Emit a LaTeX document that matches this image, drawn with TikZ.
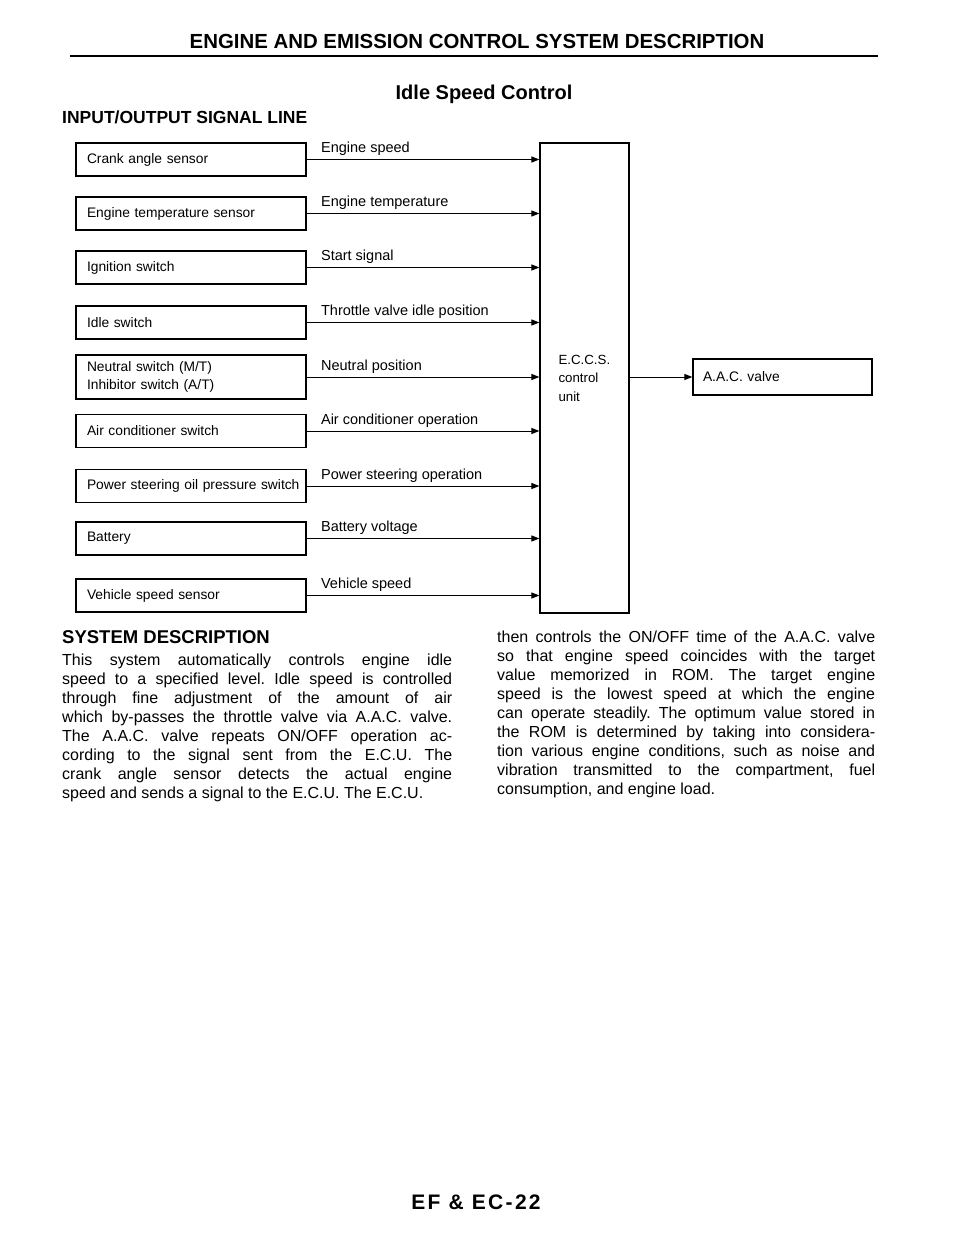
\documentclass[tikz,border=0pt]{standalone}
\usepackage{fontspec}
\setmainfont{Liberation Sans}
\usetikzlibrary{arrows.meta}

\begin{document}
\begin{tikzpicture}[x=1pt,y=-1pt,
  sensor/.style={draw,line width=1.2pt,text width=208pt,inner xsep=11pt,minimum height=33pt,align=left,font=\fontsize{13.8}{18.5}\selectfont},
  signal/.style={line width=1pt,-{Triangle[length=8pt,width=6pt]}},
  siglabel/.style={anchor=base west,inner sep=0pt,font=\fontsize{14.5}{17}\selectfont},
  head/.style={inner sep=0pt,font=\bfseries\fontsize{20}{24}\selectfont},
  body/.style={anchor=north west,inner sep=0pt,align=justify,font=\fontsize{16}{19}\selectfont\frenchspacing}]
\useasboundingbox (0,0) rectangle (960,1242);

% page heading
\node[head,font=\bfseries\fontsize{20.4}{24}\selectfont] (title) at (477,41) {ENGINE AND EMISSION CONTROL SYSTEM DESCRIPTION};
\draw[line width=2pt] (70,56) -- (878,56);
\node[head] (isc) at (484,94) {Idle Speed Control};
\node[head,anchor=west,font=\bfseries\fontsize{17.5}{21}\selectfont] (iosl) at (62,117) {INPUT/OUTPUT SIGNAL LINE};

% inputs
\node[sensor] (crank) at (191,159.5) {Crank angle sensor};
\node[sensor] (temp) at (191,213.5) {Engine temperature sensor};
\node[sensor] (ign) at (191,267.5) {Ignition switch};
\node[sensor] (idle) at (191,322.5) {Idle switch};
\node[sensor,minimum height=44pt] (neutral) at (191,377) {Neutral switch (M/T)\\Inhibitor switch (A/T)};
\node[sensor] (aircon) at (191,431) {Air conditioner switch};
\node[sensor] (pst) at (191,486) {\mbox{Power steering oil pressure switch}};
\node[sensor] (batt) at (191,538.5) {Battery};
\node[sensor] (vss) at (191,595.5) {Vehicle speed sensor};

% control unit and output
\node[draw,line width=1.2pt,minimum width=89pt,minimum height=470pt,text width=52pt,inner xsep=18.5pt,align=left,font=\fontsize{13.3}{18.5}\selectfont] (ecu) at (584.5,378) {E.C.C.S.\\control\\unit};
\node[sensor,text width=159pt,inner xsep=10pt,minimum height=36pt] (aac) at (782.5,377) {A.A.C. valve};

\foreach \s/\t in {crank/Engine speed,temp/Engine temperature,ign/Start signal,idle/Throttle valve idle position,neutral/Neutral position,aircon/Air conditioner operation,pst/Power steering operation,batt/Battery voltage,vss/Vehicle speed}
  \draw[signal] (\s.east) -- (\s.east -| ecu.west) node[siglabel,pos=0,xshift=14pt,yshift=7pt] {\t};
\draw[signal] (ecu.east |- aac.west) -- (aac.west);

% description
\node[head,anchor=west,font=\bfseries\fontsize{18.5}{22}\selectfont] (sdhead) at (62,637) {SYSTEM DESCRIPTION};
\node[body,text width=390pt] (leftcol) at (62,654) {\parfillskip=0pt This system automatically controls engine idle\linebreak
speed to a specified level. Idle speed is controlled\linebreak
through fine adjustment of the amount of air\linebreak
which by-passes the throttle valve via A.A.C. valve.\linebreak
The A.A.C. valve repeats ON/OFF operation ac-\linebreak
cording to the signal sent from the E.C.U. The\linebreak
crank angle sensor detects the actual engine\linebreak
speed and sends a signal to the E.C.U. The E.C.U.};
\node[body,text width=378pt] (rightcol) at (497,631) {then controls the ON/OFF time of the A.A.C. valve\linebreak
so that engine speed coincides with the target\linebreak
value memorized in ROM. The target engine\linebreak
speed is the lowest speed at which the engine\linebreak
can operate steadily. The optimum value stored in\linebreak
the ROM is determined by taking into considera-\linebreak
tion various engine conditions, such as noise and\linebreak
vibration transmitted to the compartment, fuel\linebreak
consumption, and engine load.};

% page number
\node[head,font=\bfseries\fontsize{21}{25}\selectfont\addfontfeature{LetterSpace=11}] (page) at (476,1202) {EF \& EC-22};
\end{tikzpicture}
\end{document}
